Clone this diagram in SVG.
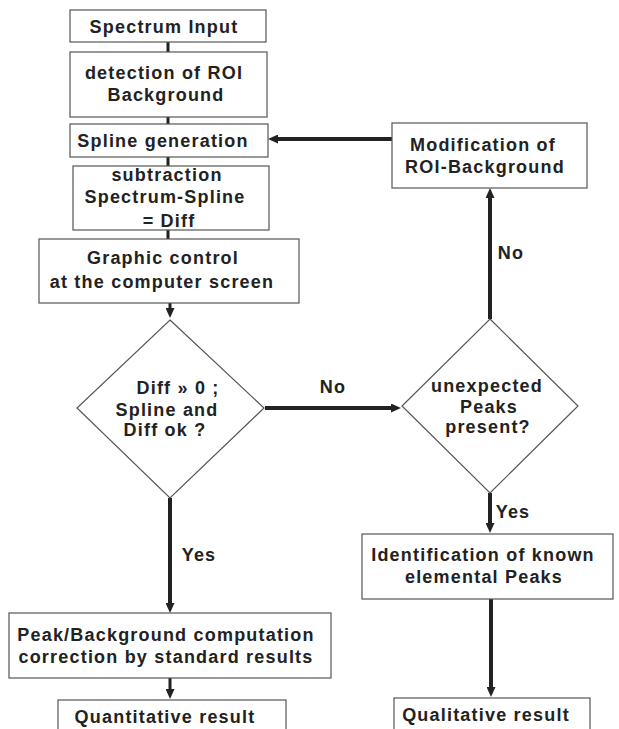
<svg xmlns="http://www.w3.org/2000/svg" width="619" height="729" viewBox="0 0 619 729">
<defs>
<style>
.box{fill:#fff;stroke:#555;stroke-width:1.2}
.t{font-family:"Liberation Sans",Arial,sans-serif;font-size:18px;font-weight:bold;fill:#222;letter-spacing:1.2px;text-anchor:middle}
.c{stroke:#222;fill:none}
.thick{stroke-width:4}
.thin{stroke-width:3}
</style>
<marker id="ah" viewBox="0 0 10 9" refX="0" refY="4.5" markerWidth="10" markerHeight="9" markerUnits="userSpaceOnUse" orient="auto">
<path d="M0,0 L10,4.5 L0,9 z" fill="#222"/>
</marker>
</defs>
<rect width="619" height="729" fill="#fff"/>

<g id="connectors">
<line class="c thin" x1="168" y1="42" x2="168" y2="52"/>
<line class="c thin" x1="168" y1="117" x2="168" y2="124"/>
<line class="c thin" x1="168" y1="157" x2="168" y2="166"/>
<line class="c thin" x1="168" y1="230" x2="168" y2="239"/>
<line class="c thin" x1="170" y1="303" x2="170" y2="308" marker-end="url(#ah)"/>
<line class="c thick" x1="170" y1="498" x2="170" y2="603" marker-end="url(#ah)"/>
<line class="c thin" x1="170" y1="678" x2="170" y2="689" marker-end="url(#ah)"/>
<line class="c thick" x1="265" y1="408" x2="391" y2="408" marker-end="url(#ah)"/>
<line class="c thick" x1="490" y1="493" x2="490" y2="523" marker-end="url(#ah)"/>
<line class="c thick" x1="491" y1="599" x2="491" y2="687" marker-end="url(#ah)"/>
<line class="c thick" x1="490" y1="319" x2="490" y2="198" marker-end="url(#ah)"/>
<line class="c thick" x1="392" y1="139" x2="278" y2="139" marker-end="url(#ah)"/>
<text class="t" x="333" y="393">No</text>
<text class="t" x="511" y="259">No</text>
<text class="t" x="199" y="561">Yes</text>
<text class="t" x="513" y="518">Yes</text>
</g>

<g id="spectrum-input">
<rect class="box" x="70" y="10" width="196" height="32"/>
<text class="t" x="164" y="33">Spectrum Input</text>
</g>
<g id="detection-roi">
<rect class="box" x="70" y="52" width="197" height="65"/>
<text class="t" x="164" y="79">detection of ROI</text>
<text class="t" x="166" y="101">Background</text>
</g>
<g id="spline-generation">
<rect class="box" x="70" y="124" width="198" height="33"/>
<text class="t" x="163" y="147">Spline generation</text>
</g>
<g id="subtraction">
<rect class="box" x="73" y="166" width="196" height="64"/>
<text class="t" x="167" y="181">subtraction</text>
<text class="t" x="165" y="203">Spectrum-Spline</text>
<text class="t" x="169" y="227">= Diff</text>
</g>
<g id="graphic-control">
<rect class="box" x="39" y="239" width="260" height="64"/>
<text class="t" x="163" y="264">Graphic control</text>
<text class="t" x="162" y="288">at the computer screen</text>
</g>
<g id="decision-diff">
<polygon class="box" points="170,320 264,408 170,498 77,408"/>
<text class="t" x="178" y="394">Diff » 0 ;</text>
<text class="t" x="167" y="416">Spline and</text>
<text class="t" x="165" y="436">Diff ok ?</text>
</g>
<g id="modification">
<rect class="box" x="392" y="123" width="195" height="65"/>
<text class="t" x="483" y="151">Modification of</text>
<text class="t" x="485" y="173">ROI-Background</text>
</g>
<g id="decision-peaks">
<polygon class="box" points="490,319 578,406 490,493 402,406"/>
<text class="t" x="487" y="392">unexpected</text>
<text class="t" x="489" y="413">Peaks</text>
<text class="t" x="488" y="433">present?</text>
</g>
<g id="identification">
<rect class="box" x="362" y="534" width="251" height="65"/>
<text class="t" x="483" y="561">Identification of known</text>
<text class="t" x="484" y="583">elemental Peaks</text>
</g>
<g id="peak-background">
<rect class="box" x="9" y="613" width="322" height="65"/>
<text class="t" x="166" y="641">Peak/Background computation</text>
<text class="t" x="166" y="663">correction by standard results</text>
</g>
<g id="quantitative">
<rect class="box" x="58" y="700" width="228" height="45"/>
<text class="t" x="165" y="723">Quantitative result</text>
</g>
<g id="qualitative">
<rect class="box" x="394" y="698" width="196" height="45"/>
<text class="t" x="486" y="721">Qualitative result</text>
</g>
</svg>
